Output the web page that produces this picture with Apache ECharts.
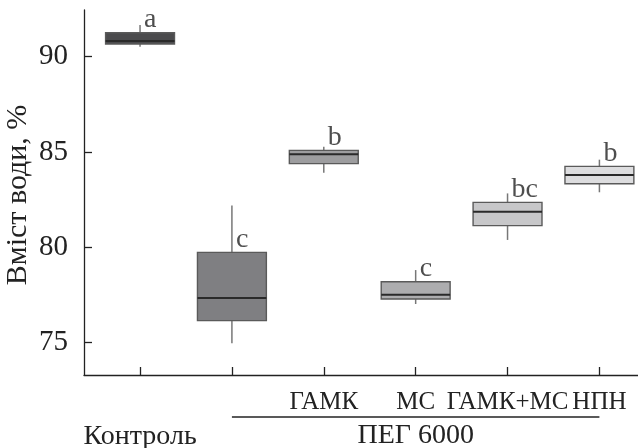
<!DOCTYPE html>
<html>
<head>
<meta charset="utf-8">
<script src="https://cdn.jsdelivr.net/npm/echarts@6/dist/echarts.min.js"></script>
<style>
  html, body { margin: 0; padding: 0; background: #fff; }
  #chart { width: 638px; height: 448px; }
</style>
</head>
<body>
<div id="chart"></div>
<script>
// group positions on the x axis and their labels
const positions = [1, 2, 3, 4, 5, 6];
const subLabels = ["", "", "ГАМК", "МС", "ГАМК+МС", "НПН"];
const controlLabel = "Контроль";
const pegLabel = "ПЕГ 6000";
const yTitle = "Вміст води, %";

// box statistics, % water content
const whiskerLow = [90.52, 74.97, 83.92, 77.03, 80.39, 82.89];
const q1 = [90.67, 76.16, 84.39, 77.29, 81.14, 83.34];
const median = [90.82, 77.35, 84.88, 77.52, 81.87, 83.79];
const q3 = [91.26, 79.74, 85.09, 78.2, 82.36, 84.25];
const whiskerHigh = [91.66, 82.19, 85.28, 78.81, 82.83, 84.6];
const letters = ["a", "c", "b", "c", "bc", "b"];

const yTicks = [75, 80, 85, 90];
const boxColors = ["#4b4b4d", "#7f7f82", "#9d9d9f", "#adadaf", "#c7c7c9", "#dddddf"];

const FONT = "Liberation Serif";

const chart = echarts.init(document.getElementById("chart"));

// box + whiskers without end caps, drawn through the axes
function renderBox(params, api) {
  const x = api.value(0);
  const pLow = api.coord([x, api.value(1)]);
  const pQ1 = api.coord([x, api.value(2)]);
  const pMed = api.coord([x, api.value(3)]);
  const pQ3 = api.coord([x, api.value(4)]);
  const pHigh = api.coord([x, api.value(5)]);
  const half = (api.size([1, 0])[0] * 0.75) / 2;
  const cx = pMed[0];
  return {
    type: "group",
    children: [
      {
        type: "line",
        shape: { x1: cx, y1: pHigh[1], x2: cx, y2: pQ3[1] },
        style: { stroke: "#777", lineWidth: 1.5 },
      },
      {
        type: "line",
        shape: { x1: cx, y1: pQ1[1], x2: cx, y2: pLow[1] },
        style: { stroke: "#777", lineWidth: 1.5 },
      },
      {
        type: "rect",
        shape: { x: cx - half, y: pQ3[1], width: half * 2, height: pQ1[1] - pQ3[1] },
        style: { fill: boxColors[params.dataIndex], stroke: "#5a5a5a", lineWidth: 1.4 },
      },
      {
        type: "line",
        shape: { x1: cx - half, y1: pMed[1], x2: cx + half, y2: pMed[1] },
        style: { stroke: "#2a2a2a", lineWidth: 2 },
      },
    ],
  };
}

const option = {
  animation: false,
  grid: { left: 84, right: 0, top: 10, bottom: 73, outerBoundsMode: "none" },
  xAxis: {
    type: "value",
    min: 0.39,
    max: 6.42,
    splitLine: { show: false },
    axisLine: { lineStyle: { color: "#222", width: 1.3 } },
    axisTick: {
      inside: true,
      length: 8,
      customValues: positions,
      lineStyle: { color: "#222", width: 1.3 },
    },
    axisLabel: {
      customValues: positions.slice(2),
      margin: 15,
      fontFamily: FONT,
      fontSize: 25,
      color: "#222",
      formatter: (v) => subLabels[positions.indexOf(v)] || "",
    },
  },
  yAxis: {
    type: "value",
    min: 73.306,
    max: 92.45,
    splitLine: { show: false },
    axisLine: { lineStyle: { color: "#222", width: 1.3 } },
    axisTick: {
      inside: true,
      length: 8,
      customValues: yTicks,
      lineStyle: { color: "#222", width: 1.3 },
    },
    axisLabel: {
      customValues: yTicks,
      margin: 16,
      fontFamily: FONT,
      fontSize: 29,
      color: "#222",
    },
  },
  series: [
    {
      type: "custom",
      renderItem: renderBox,
      data: positions.map((x, i) => [x, whiskerLow[i], q1[i], median[i], q3[i], whiskerHigh[i]]),
      encode: { x: 0, y: [1, 2, 3, 4, 5] },
    },
    {
      // significance letters
      type: "scatter",
      symbolSize: 0,
      data: positions.map((x, i) => [x, q3[i]]),
      label: {
        show: true,
        position: "right",
        distance: 4,
        offset: [0, -13],
        fontFamily: FONT,
        fontSize: 28,
        color: "#222",
        formatter: (p) => letters[p.dataIndex],
      },
      z: 6,
    },
  ],
};

chart.setOption(option);

// group captions below the axis, y title at the left
const pCtrl = chart.convertToPixel({ gridIndex: 0 }, [positions[0], 73.306]);
const pStart = chart.convertToPixel({ gridIndex: 0 }, [positions[1], 73.306]);
const pEnd = chart.convertToPixel({ gridIndex: 0 }, [positions[5], 73.306]);
const lineY = pCtrl[1] + 42;

chart.setOption({
  graphic: [
    {
      type: "text",
      x: 18,
      y: 195,
      rotation: Math.PI / 2,
      style: {
        text: yTitle,
        fontFamily: FONT,
        fontSize: 30,
        fill: "#222",
        align: "center",
        verticalAlign: "middle",
      },
    },
    {
      type: "line",
      shape: { x1: pStart[0], y1: lineY, x2: pEnd[0], y2: lineY },
      style: { stroke: "#222", lineWidth: 1.5 },
    },
    {
      type: "text",
      x: pCtrl[0],
      y: lineY + 20,
      style: {
        text: controlLabel,
        fontFamily: FONT,
        fontSize: 28,
        fill: "#222",
        align: "center",
        verticalAlign: "middle",
      },
    },
    {
      type: "text",
      x: (pStart[0] + pEnd[0]) / 2,
      y: lineY + 19,
      style: {
        text: pegLabel,
        fontFamily: FONT,
        fontSize: 28,
        fill: "#222",
        align: "center",
        verticalAlign: "middle",
      },
    },
  ],
});
</script>
</body>
</html>
